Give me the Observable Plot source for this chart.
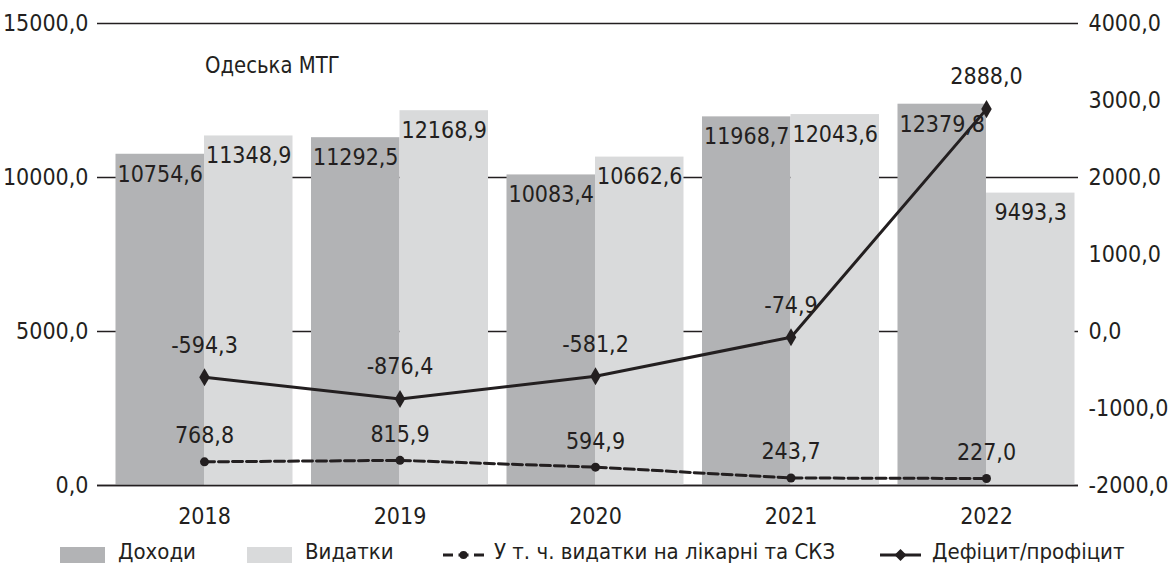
<!DOCTYPE html>
<html>
<head>
<meta charset="utf-8">
<script src="https://cdn.jsdelivr.net/npm/d3@7"></script>
<script src="https://cdn.jsdelivr.net/npm/@observablehq/plot@0.6"></script>
<style>
  html, body { margin: 0; padding: 0; background: #fff; }
  #wrap { position: relative; width: 1168px; height: 567px; overflow: hidden;
          font-family: "Liberation Sans Narrow", "DejaVu Sans Condensed", sans-serif; color: #231f20; }
  #title { position: absolute; left: 205px; top: 50px; font-size: 23px; line-height: 30px; transform: scaleX(0.95); transform-origin: left center; }
  .sw { position: absolute; top: 547px; }
  .lt { position: absolute; top: 537px; height: 30px; line-height: 30px; font-size: 22px; white-space: nowrap; }
</style>
</head>
<body>
<div id="wrap">
  <div id="chart"></div>
  <div id="title">Одеська МТГ</div>
</div>
<script>
const years = [2018, 2019, 2020, 2021, 2022];
const revenues = [10754.6, 11292.5, 10083.4, 11968.7, 12379.8];
const expenditures = [11348.9, 12168.9, 10662.6, 12043.6, 9493.3];
const hospitals = [768.8, 815.9, 594.9, 243.7, 227.0];
const balance = [-594.3, -876.4, -581.2, -74.9, 2888.0];
const leftTicks = [0, 5000, 10000, 15000];
const rightTicks = [-2000, -1000, 0, 1000, 2000, 3000, 4000];
const seriesNames = ["Доходи", "Видатки", "У т. ч. видатки на лікарні та СКЗ", "Дефіцит/профіцит"];

const leftDomain = [0, 15000];
const rightDomain = [-2000, 4000];
const toLeft = v => (v - rightDomain[0]) / (rightDomain[1] - rightDomain[0]) * (leftDomain[1] - leftDomain[0]) + leftDomain[0];
const fromLeft = v => Math.round((v - leftDomain[0]) / (leftDomain[1] - leftDomain[0]) * (rightDomain[1] - rightDomain[0]) + rightDomain[0]);
const fmt = v => v.toFixed(1).replace(".", ",");

const barHalf = 0.4527; // bar width in year units
const rows = years.map((y, i) => ({
  year: y, rev: revenues[i], exp: expenditures[i], hosp: hospitals[i], bal: balance[i], balL: toLeft(balance[i])
}));

const ink = "#231f20";
const dark = "#b2b3b5";
const light = "#d9dadb";
const font = "\"Liberation Sans Narrow\", \"DejaVu Sans Condensed\", sans-serif";

const chart = Plot.plot({
  width: 1168,
  height: 535,
  marginLeft: 97,
  marginRight: 90,
  marginTop: 23,
  marginBottom: 50,
  style: { fontFamily: font, fontSize: "23px", color: ink, background: "#fff" },
  x: { type: "linear", domain: [2017.4527, 2022.4706], label: null },
  y: { domain: leftDomain, label: null },
  marks: [
    Plot.ruleY(leftTicks, { stroke: ink, strokeWidth: 1.6 }),
    Plot.rectY(rows, { x1: d => d.year - barHalf, x2: d => d.year, y1: 0, y2: "rev", fill: dark }),
    Plot.rectY(rows, { x1: d => d.year, x2: d => d.year + barHalf, y1: 0, y2: "exp", fill: light }),
    Plot.ruleY([0], { stroke: ink, strokeWidth: 1.6 }),
    Plot.text(rows, { x: d => d.year - barHalf / 2, y: "rev", text: d => fmt(d.rev), dy: 20, fill: ink, fontSize: 23 }),
    Plot.text(rows, { x: d => d.year + barHalf / 2, y: "exp", text: d => fmt(d.exp), dy: 20, fill: ink, fontSize: 23 }),
    Plot.line(rows, { x: "year", y: "hosp", stroke: ink, strokeWidth: 3, strokeDasharray: "10,4" }),
    Plot.dot(rows, { x: "year", y: "hosp", r: 4.5, fill: ink, symbol: "circle" }),
    Plot.text(rows, { x: "year", y: "hosp", text: d => fmt(d.hosp), dy: -26, fill: ink, fontSize: 23 }),
    Plot.line(rows, { x: "year", y: "balL", stroke: ink, strokeWidth: 3 }),
    Plot.dot(rows, { x: "year", y: "balL", r: 5.5, fill: ink, symbol: "diamond" }),
    Plot.text(rows, { x: "year", y: "balL", text: d => fmt(d.bal), dy: -32, fill: ink, fontSize: 23 }),
    Plot.axisX({ ticks: years, tickFormat: d => String(d), tickSize: 0, tickPadding: 22, fontSize: 23, label: null }),
    Plot.axisY({ anchor: "left", ticks: leftTicks, tickFormat: fmt, tickSize: 0, tickPadding: 9, fontSize: 23, label: null }),
    Plot.axisY({ anchor: "right", ticks: rightTicks.map(toLeft), tickFormat: v => fmt(fromLeft(v)), tickSize: 0, tickPadding: 10, fontSize: 23, label: null })
  ]
});
document.getElementById("chart").appendChild(chart);

// legend
const wrap = document.getElementById("wrap");
const legendItems = [
  { sx: 60, tx: 118, name: seriesNames[0], kind: "box", color: dark },
  { sx: 247, tx: 305, name: seriesNames[1], kind: "box", color: light },
  { sx: 443, tx: 494, name: seriesNames[2], kind: "dash" },
  { sx: 880, tx: 932, name: seriesNames[3], kind: "solid" }
];
for (const it of legendItems) {
  const sw = document.createElement("div");
  sw.className = "sw";
  sw.style.left = it.sx + "px";
  if (it.kind === "box") {
    sw.innerHTML = `<svg width="45" height="16" style="display:block"><rect x="0" y="0" width="45" height="16" fill="${it.color}"/></svg>`;
  } else if (it.kind === "dash") {
    sw.innerHTML = `<svg width="41" height="16" style="display:block"><line x1="0" y1="8" x2="41" y2="8" stroke="${ink}" stroke-width="3" stroke-dasharray="10,5.5"/><circle cx="20.5" cy="8" r="4" fill="${ink}"/></svg>`;
  } else {
    sw.innerHTML = `<svg width="41" height="16" style="display:block"><line x1="0" y1="8" x2="41" y2="8" stroke="${ink}" stroke-width="3"/><path d="M20.5 2 L26.5 8 L20.5 14 L14.5 8 Z" fill="${ink}"/></svg>`;
  }
  wrap.appendChild(sw);
  const t = document.createElement("div");
  t.className = "lt";
  t.style.left = it.tx + "px";
  t.textContent = it.name;
  wrap.appendChild(t);
}
</script>
</body>
</html>
